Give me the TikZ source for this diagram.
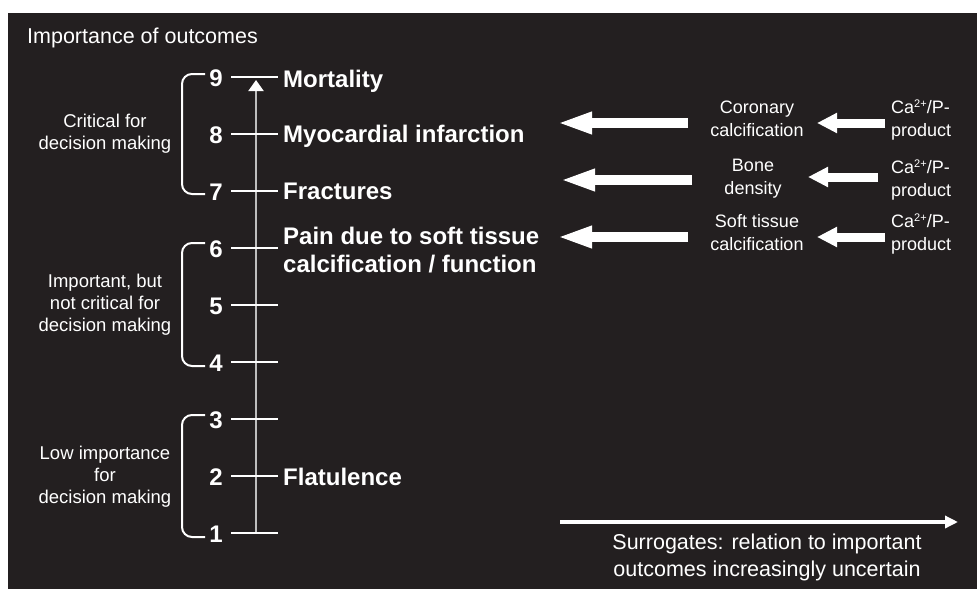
\documentclass[tikz,border=0pt]{standalone}
\usepackage{fontspec}
\setmainfont{Liberation Sans}
\usetikzlibrary{arrows.meta}
\definecolor{bg}{HTML}{231F20}
\definecolor{axisgray}{HTML}{BEBEBE}
\newcommand{\casup}{Ca\raisebox{0.33em}{\fontsize{11}{11}\selectfont 2+}/P-}
\begin{document}
\begin{tikzpicture}[x=1pt,y=-1pt,
  num/.style={font=\bfseries\fontsize{24}{26}\selectfont, text=white, inner sep=0pt},
  outc/.style={font=\bfseries\fontsize{24}{28}\selectfont, text=white, inner sep=0pt, align=left},
  grp/.style={font=\fontsize{18.5}{22}\selectfont, text=white, align=center, inner sep=0pt},
  surr/.style={font=\fontsize{18}{23}\selectfont, text=white, align=center, inner sep=0pt},
  capro/.style={font=\fontsize{18}{23}\selectfont, text=white, align=left, inner sep=0pt, anchor=west},
  tickline/.style={white, line width=2pt},
  bracket/.style={white, line width=2pt, rounded corners=10pt},
  axisline/.style={axisgray, line width=2pt, -{Triangle[length=11pt,width=15pt,color=white]}},
  bigarr/.style={white, line width=10pt, -{Triangle[length=35pt,width=20pt]}},
  smallarr/.style={white, line width=9pt, -{Triangle[length=20pt,width=19pt]}},
  surrarr/.style={white, line width=4pt, -{Triangle[length=13pt,width=12pt]}}
]
\useasboundingbox (0,0) rectangle (977,589);
\fill[white] (0,0) rectangle (977,589);
\fill[bg] (8,13) rectangle (977,589);

% title
\node[font=\fontsize{21.5}{24}\selectfont, text=white, anchor=west, inner sep=0pt] (title) at (27,38) {Importance of outcomes};

% axis
\coordinate (axb) at (256,533);
\coordinate (axt) at (256,80);
\draw[axisline] (axb) -- (axt);

% ticks and numbers
\foreach \k in {1,...,9} {
  \pgfmathsetmacro\yy{533-57*(\k-1)}
  \coordinate (tl\k) at (231,\yy);
  \coordinate (tr\k) at (278,\yy);
  \draw[tickline] (tl\k) -- (tr\k);
  \node[num] (n\k) at (216,\yy+1) {\k};
}

% brackets
\draw[bracket] (205,74) -- (182,74) -- (182,194) -- (205,194);
\draw[bracket] (205,243) -- (182,243) -- (182,366) -- (205,366);
\draw[bracket] (205,415) -- (182,415) -- (182,537) -- (205,537);

% group labels
\node[grp] (g1) at (105,134) {Critical for\\decision making};
\node[grp] (g2) at (105,305) {Important, but\\not critical for\\decision making};
\node[grp] (g3) at (105,477) {Low importance\\for\\decision making};

% outcomes
\node[outc, anchor=base west] (mort) at (283,87) {Mortality};
\node[outc, anchor=base west] (myo) at (283,142) {Myocardial infarction};
\node[outc, anchor=base west] (frac) at (283,199) {Fractures};
\node[outc, anchor=west] (pain) at (283,250) {Pain due to soft tissue\\calcification / function};
\node[outc, anchor=base west] (flat) at (283,485) {Flatulence};

% surrogates
\node[surr] (cor) at (757,119) {Coronary\\calcification};
\node[surr] (bone) at (753,179) {Bone\\density};
\node[surr] (soft) at (757,233) {Soft tissue\\calcification};

\node[capro] (ca1) at (891,120) {\casup\\product};
\node[capro] (ca2) at (891,180) {\casup\\product};
\node[capro] (ca3) at (891,234) {\casup\\product};

% big arrows
\coordinate (b1t) at (688,123); \coordinate (b1h) at (557,123);
\coordinate (b2t) at (692,180); \coordinate (b2h) at (560,180);
\coordinate (b3t) at (688,237); \coordinate (b3h) at (557,237);
\draw[bigarr] (b1t) -- (b1h);
\draw[bigarr] (b2t) -- (b2h);
\draw[bigarr] (b3t) -- (b3h);

% small arrows
\coordinate (s1t) at (885,123); \coordinate (s1h) at (817,123);
\coordinate (s2t) at (878,177); \coordinate (s2h) at (808,177);
\coordinate (s3t) at (885,237); \coordinate (s3h) at (817,237);
\draw[smallarr] (s1t) -- (s1h);
\draw[smallarr] (s2t) -- (s2h);
\draw[smallarr] (s3t) -- (s3h);

% bottom arrow and text
\coordinate (ua) at (560,522);
\coordinate (ub) at (958,522);
\draw[surrarr] (ua) -- (ub);
\node[font=\fontsize{21.5}{27}\selectfont, text=white, align=center, inner sep=0pt] (unc) at (767,557) {Surrogates: relation to important\\outcomes increasingly uncertain};
\end{tikzpicture}
\end{document}
